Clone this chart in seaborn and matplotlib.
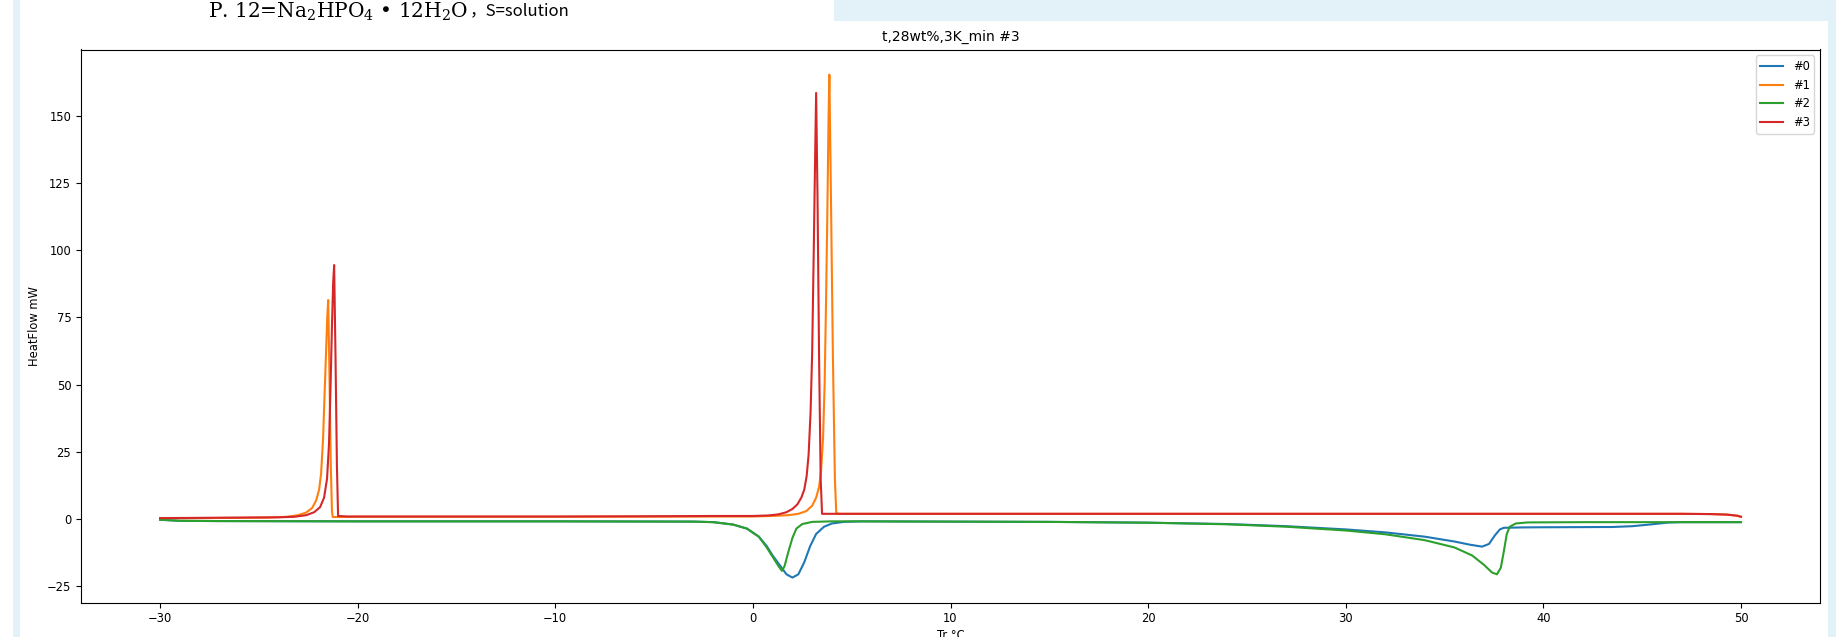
import matplotlib
matplotlib.use("Agg")
import matplotlib.pyplot as plt
from matplotlib.patches import Rectangle
import matplotlib.transforms as mtransforms
import seaborn as sns
import pandas as pd

# ---- data ----
x0 = [-30, -29, -27, -20, -10, -3, -2, -1, -0.3, 0.3, 0.7, 1.0, 1.4, 1.7, 2.0, 2.3, 2.6, 2.9, 3.2, 3.6, 4.0, 4.6, 5.5,
      10, 15, 20, 24, 27, 30, 32, 34, 35.5, 36.3, 36.9, 37.25, 37.55, 37.8, 38.0, 39, 40, 43.5, 44.5, 45.5, 46.3, 47, 50]
y0 = [-0.2, -0.6, -0.7, -0.8, -0.8, -0.9, -1.1, -2.0, -3.5, -6.5, -10, -13.5, -17.5, -20.5, -21.7, -20.5, -16, -10, -5.5, -2.8, -1.6, -1.0, -0.8,
      -0.9, -1.0, -1.3, -1.8, -2.6, -3.8, -4.9, -6.5, -8.3, -9.5, -10.2, -9.2, -6.0, -3.8, -3.2, -3.05, -3.0, -2.9, -2.6, -1.9, -1.25, -1.1, -1.1]

x1 = [-30, -28, -26, -24.5, -23.6, -23.0, -22.6, -22.3, -22.1, -21.95, -21.85, -21.75, -21.68, -21.6, -21.54, -21.49,
      -21.43, -21.36, -21.3, -21.26, -20, -10, 0, 1.0, 1.8, 2.3, 2.7, 3.0, 3.2, 3.35, 3.45, 3.55, 3.63, 3.7, 3.77, 3.83,
      3.87, 3.95, 4.05, 4.15, 4.22, 4.4, 10, 20, 30, 40, 47, 48.5, 49.3, 49.8, 50]
y1 = [0.3, 0.4, 0.5, 0.6, 0.9, 1.5, 2.5, 4.2, 7, 11, 17, 30, 45, 62, 75, 81.5,
      55, 20, 3, 0.8, 0.9, 0.9, 1.0, 1.2, 1.5, 2.0, 3.0, 5, 8, 12, 18, 30, 50, 80, 115, 150,
      165.3, 120, 60, 15, 2.2, 2.0, 2.0, 2.0, 2.0, 2.0, 2.0, 1.9, 1.7, 1.3, 0.9]

x2 = [-30, -29, -27, -20, -10, -3, -2, -1, -0.3, 0.3, 0.7, 1.0, 1.3, 1.47, 1.6, 1.8, 2.0, 2.2, 2.5, 3.0, 4.0,
      5, 10, 15, 20, 24, 27, 30, 32, 34, 35.5, 36.4, 37.0, 37.4, 37.65, 37.85, 38.0, 38.15, 38.3, 38.6, 39.2, 42, 50]
y2 = [-0.2, -0.6, -0.7, -0.8, -0.8, -0.9, -1.1, -2.0, -3.5, -6.5, -10.5, -14, -17.5, -19.2, -17.5, -12, -7, -3.5, -1.8, -1.0, -0.8,
      -0.8, -0.9, -1.0, -1.3, -1.9, -2.8, -4.2, -5.6, -7.8, -10.5, -13.5, -17, -19.8, -20.5, -18, -12, -5.5, -2.8, -1.6, -1.2, -1.1, -1.1]

x3 = [-30, -28, -26, -24, -23.2, -22.6, -22.2, -21.9, -21.7, -21.55, -21.45, -21.37, -21.3, -21.24, -21.19, -21.12,
      -21.05, -20.99, -20.5, -15, -10, -5, -2, 0, 0.8, 1.3, 1.7, 2.0, 2.25, 2.45, 2.6, 2.72, 2.82, 2.92, 3.0, 3.08,
      3.14, 3.2, 3.27, 3.35, 3.43, 3.5, 4, 10, 20, 30, 40, 47, 48.5, 49.3, 49.8, 50]
y3 = [0.4, 0.5, 0.6, 0.7, 0.9, 1.5, 2.6, 4.5, 8, 15, 28, 50, 72, 88, 94.5, 60,
      20, 1.2, 1.0, 1.0, 1.0, 1.1, 1.2, 1.2, 1.4, 1.8, 2.6, 3.8, 5.5, 8, 11, 16, 24, 40, 62, 100,
      130, 158.5, 120, 60, 15, 2.0, 2.0, 2.0, 2.0, 2.0, 2.0, 2.0, 1.9, 1.7, 1.3, 0.9]

series_names = ["#0", "#1", "#2", "#3"]
series_x = [x0, x1, x2, x3]
series_y = [y0, y1, y2, y3]
colors = ["#1f77b4", "#ff7f0e", "#2ca02c", "#d62728"]

title = "t,28wt%,3K_min #3"
xlabel = "Tr °C"
ylabel = "HeatFlow mW"
header_formula = r"P. 12=Na$_2$HPO$_4$ • 12H$_2$O"
header_rest = "，S=solution"

# ---- figure ----
plt.rcParams["font.family"] = ["DejaVu Sans"]
plt.rcParams["font.size"] = 8.3
plt.rcParams["axes.titlesize"] = 10
plt.rcParams["mathtext.fontset"] = "dejavuserif"

W, H = 1836, 637
fig = plt.figure(figsize=(W / 100, H / 100), dpi=100, facecolor="white")

blue_bg = "#e3f1f8"
def px_rect(x0p, y0p, x1p, y1p):
    fig.add_artist(Rectangle((x0p / W, 1 - y1p / H), (x1p - x0p) / W, (y1p - y0p) / H,
                             transform=fig.transFigure, facecolor=blue_bg, edgecolor="none", zorder=-10))

px_rect(13, 0, 20, H)        # left strip
px_rect(834, 0, W, 21)       # top right block
px_rect(1828, 0, W, H)       # right strip

ax = fig.add_axes([81 / W, 1 - 602.7 / H, (1820 - 81) / W, (602.7 - 49.5) / H])

for name, xs, ys, c in zip(series_names, series_x, series_y, colors):
    df = pd.DataFrame({"x": xs, "y": ys})
    sns.lineplot(data=df, x="x", y="y", ax=ax, color=c, label=name,
                 sort=False, estimator=None, linewidth=1.5)

ax.set_title(title)
ax.set_xlabel(xlabel, labelpad=2.5)
ax.set_ylabel(ylabel)
ax.set_xticks([-30, -20, -10, 0, 10, 20, 30, 40, 50])
ax.set_yticks([-25, 0, 25, 50, 75, 100, 125, 150])
ax.margins(x=0.05, y=0.05)
ax.legend(loc="upper right")

# header text
t1 = fig.text(208 / W, 1 - 12 / H, header_formula, fontsize=14.5,
              family=["DejaVu Serif"], va="center", ha="left")
t2 = fig.text(0, 0, header_rest, fontsize=12, family=["Noto Sans CJK SC", "DejaVu Sans"],
              va="center", ha="left")

fig.canvas.draw()
bb = t1.get_window_extent()
t2.set_transform(mtransforms.IdentityTransform())
t2.set_position((bb.x1 + 1, (bb.y0 + bb.y1) / 2 + 1))

fig.savefig("out.png", dpi=100, facecolor="white")
